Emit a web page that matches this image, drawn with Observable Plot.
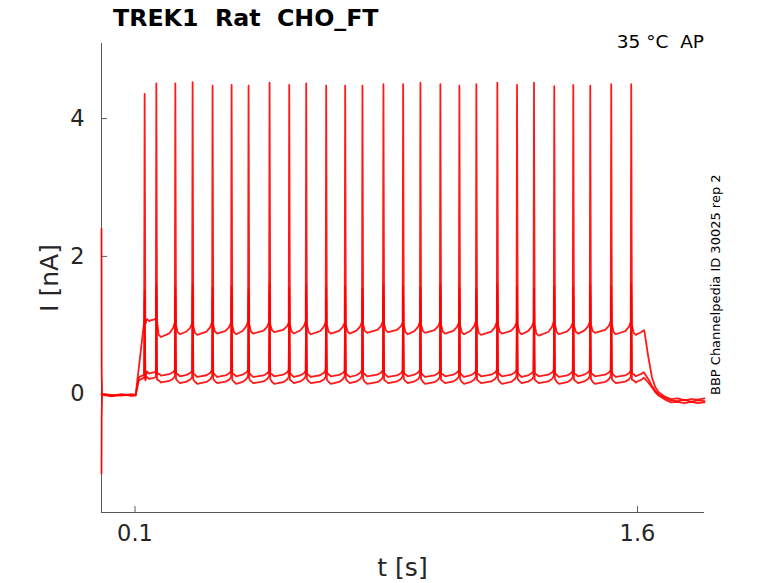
<!DOCTYPE html>
<html>
<head>
<meta charset="utf-8">
<script src="https://cdn.jsdelivr.net/npm/d3@7"></script>
<script src="https://cdn.jsdelivr.net/npm/@observablehq/plot@0.6"></script>
<style>
  html, body { margin: 0; padding: 0; background: #fff; }
  #chart { position: relative; width: 778px; height: 583px; }
</style>
</head>
<body>
<div id="chart"></div>
<script>
// ---- Data ----
const xDomain = [0, 1.8];
const yDomain = [-1.717, 5.09];
const xTicks = [0.1, 1.6];
const yTicks = [0, 2, 4];
const stimEnd = 1.619;

// spike times (s)
const spikeT = [0.1288,0.1637,0.2204,0.2720,0.3316,0.3883,0.4390,0.5017,0.5604,0.6111,0.6707,0.7274,0.7790,0.8416,0.9004,0.9520,1.0116,1.0683,1.1190,1.1816,1.2404,1.2911,1.3516,1.4083,1.4590,1.5216,1.5813];

// trace A (upper)
const peakA   = [4.36,4.51,4.51,4.53,4.48,4.49,4.48,4.52,4.49,4.51,4.48,4.48,4.48,4.50,4.50,4.52,4.50,4.48,4.50,4.52,4.49,4.52,4.47,4.49,4.48,4.50,4.50];
const troughA = [1.06,0.83,0.87,0.86,0.88,0.87,0.88,0.90,0.88,0.87,0.88,0.88,0.89,0.90,0.87,0.89,0.88,0.87,0.86,0.88,0.87,0.85,0.87,0.88,0.89,0.87,0.86];
const preA    = [1.05,1.10,1.04,1.03,1.05,1.04,1.06,1.05,1.04,1.06,1.05,1.04,1.05,1.06,1.04,1.05,1.05,1.04,1.06,1.05,1.04,1.05,1.06,1.04,1.05,1.06,1.05];
const startTA = [0, 0.0006, 0.002, 0.03, 0.06, 0.09, 0.102];
const startVA = [2.4, 0.3, 0.0, -0.02, 0.0, -0.02, -0.01];
const endT    = [1.619, 1.621, 1.632, 1.643, 1.653, 1.663, 1.683, 1.70, 1.72, 1.74, 1.76, 1.78, 1.80];
const endVA   = [0.93, 0.90, 0.55, 0.25, 0.10, 0.03, -0.04, -0.07, -0.06, -0.09, -0.07, -0.08, -0.06];

// trace B (middle)
const peakB   = [1.50,1.58,1.55,1.60,1.55,1.57,1.52,1.60,1.55,1.58,1.54,1.56,1.53,1.58,1.56,1.55,1.59,1.54,1.52,1.60,1.56,1.53,1.57,1.55,1.58,1.56,1.60];
const troughB = [0.30,0.27,0.26,0.25,0.25,0.26,0.25,0.26,0.25,0.25,0.26,0.25,0.26,0.25,0.26,0.25,0.26,0.25,0.26,0.26,0.25,0.26,0.25,0.26,0.26,0.25,0.26];
const preB    = [0.28,0.33,0.35,0.34,0.35,0.34,0.35,0.34,0.35,0.34,0.35,0.34,0.35,0.35,0.34,0.35,0.34,0.35,0.34,0.35,0.35,0.34,0.35,0.34,0.35,0.35,0.34];
const startTB = [0, 0.0006, 0.002, 0.03, 0.06, 0.09, 0.102, 0.112];
const startVB = [-1.15, -0.3, 0.0, -0.01, -0.02, 0.0, -0.01, 0.25];
const endVB   = [0.32, 0.30, 0.22, 0.12, 0.05, 0.0, -0.06, -0.09, -0.10, -0.08, -0.11, -0.09, -0.10];

// trace C (lower)
const peakC   = [1.35,1.42,1.40,1.45,1.38,1.43,1.40,1.46,1.41,1.44,1.39,1.42,1.40,1.45,1.42,1.40,1.44,1.39,1.41,1.46,1.42,1.40,1.43,1.41,1.44,1.42,1.45];
const troughC = [0.22,0.17,0.16,0.15,0.16,0.15,0.16,0.15,0.16,0.16,0.15,0.16,0.15,0.16,0.16,0.15,0.16,0.15,0.16,0.15,0.16,0.16,0.15,0.16,0.15,0.16,0.17];
const preC    = [0.24,0.25,0.26,0.25,0.26,0.25,0.26,0.26,0.25,0.26,0.25,0.26,0.26,0.25,0.26,0.26,0.25,0.26,0.25,0.26,0.26,0.25,0.26,0.25,0.26,0.26,0.25];
const startTC = [0, 0.002, 0.03, 0.06, 0.09, 0.102, 0.111];
const startVC = [0.0, -0.01, -0.03, -0.01, -0.02, -0.02, 0.20];
const endVC   = [0.24, 0.23, 0.17, 0.10, 0.03, -0.02, -0.08, -0.12, -0.11, -0.13, -0.11, -0.13, -0.12];

// ---- Build table ----
function build(name, sT, sV, peaks, troughs, pres, eV) {
  const pts = sT.map((t, j) => ({trace: name, t, v: sV[j]}));
  for (let i = 0; i < spikeT.length; i++) {
    const t = spikeT[i];
    const tn = i + 1 < spikeT.length ? spikeT[i + 1] : stimEnd;
    const nextPre = i + 1 < spikeT.length ? pres[i + 1] : eV[0];
    const tr = troughs[i];
    pts.push({trace: name, t: t - 0.0015, v: pres[i]});
    pts.push({trace: name, t: t, v: peaks[i]});
    pts.push({trace: name, t: t + 0.002, v: pres[i] - 0.04});
    pts.push({trace: name, t: t + 0.007, v: tr + 0.03});
    pts.push({trace: name, t: t + 0.014, v: tr});
    pts.push({trace: name, t: tn - 0.018, v: tr + 0.25 * (nextPre - tr)});
    pts.push({trace: name, t: tn - 0.007, v: tr + 0.6 * (nextPre - tr)});
  }
  endT.forEach((t, j) => pts.push({trace: name, t, v: eV[j]}));
  return pts;
}
const data = [
  ...build("A", startTA, startVA, peakA, troughA, preA, endVA),
  ...build("B", startTB, startVB, peakB, troughB, preB, endVB),
  ...build("C", startTC, startVC, peakC, troughC, preC, endVC)
];

const W = 778, H = 583, mL = 101, mR = 74, mT = 43, mB = 71;
const innerW = W - mL - mR, innerH = H - mT - mB;
const axisColor = "#5a5a5a";
const textColor = "#262626";

const svg = Plot.plot({
  width: W, height: H,
  marginLeft: mL, marginRight: mR, marginTop: mT, marginBottom: mB,
  style: {fontFamily: "DejaVu Sans", color: textColor, background: "#fff", overflow: "visible"},
  x: {domain: xDomain},
  y: {domain: yDomain},
  marks: [
    Plot.ruleX([xDomain[0]], {stroke: axisColor, strokeWidth: 1}),
    Plot.ruleY([yDomain[0]], {stroke: axisColor, strokeWidth: 1}),
    Plot.tickX(xTicks, {x: d => d, stroke: axisColor, insetTop: innerH - 6}),
    Plot.tickY(yTicks, {y: d => d, stroke: axisColor, insetRight: innerW - 6}),
    Plot.axisX({ticks: xTicks, tickSize: 0, tickPadding: 13, fontSize: 22.5, tickFormat: d => d.toFixed(1), label: null}),
    Plot.axisY({ticks: yTicks, tickSize: 0, tickPadding: 17, fontSize: 22.5, tickFormat: d => String(d), label: null}),
    Plot.line(data, {x: "t", y: "v", z: "trace", stroke: "#ff0000", strokeWidth: 1.8, strokeOpacity: 0.9})
  ]
});

const s = d3.select(svg);
s.append("text").attr("x", 113).attr("y", 26).attr("text-anchor", "start")
  .attr("font-weight", "bold").attr("font-size", 23.7).attr("fill", "#000")
  .style("white-space", "pre").text("TREK1  Rat  CHO_FT");
s.append("text").attr("x", 704).attr("y", 48).attr("text-anchor", "end")
  .attr("font-size", 18.5).attr("fill", "#000")
  .style("white-space", "pre").text("35 °C  AP");
s.append("text").attr("x", 402.5).attr("y", 576).attr("text-anchor", "middle")
  .attr("font-size", 25).attr("fill", textColor).text("t [s]");
s.append("text").attr("transform", "translate(58,278) rotate(-90)").attr("text-anchor", "middle")
  .attr("font-size", 25).attr("fill", textColor).text("I [nA]");
s.append("text").attr("transform", "translate(720,395) rotate(-90)").attr("text-anchor", "start")
  .attr("font-size", 13).attr("fill", "#000").text("BBP Channelpedia ID 30025 rep 2");

document.getElementById("chart").appendChild(svg);
</script>
</body>
</html>
